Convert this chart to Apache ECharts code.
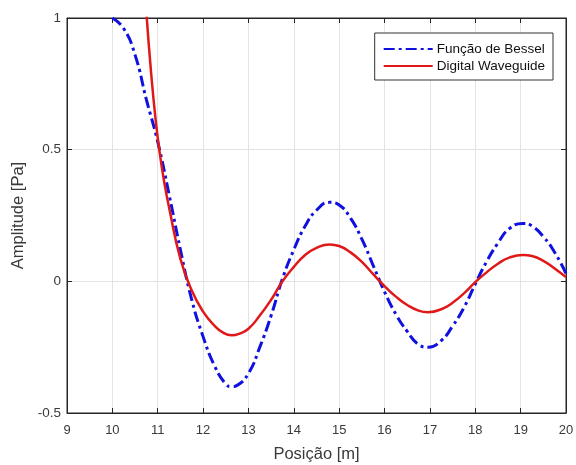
<!DOCTYPE html>
<html>
<head>
<meta charset="utf-8">
<script src="https://cdn.jsdelivr.net/npm/echarts@6/dist/echarts.min.js"></script>
<style>
  html, body { margin: 0; padding: 0; background: #fff; }
  #main { width: 576px; height: 465px; }
</style>
</head>
<body>
<div id="main"></div>
<script>
// valores
let besselX = [10, 10.25, 10.5, 10.75, 11, 11.25, 11.5, 11.75, 12, 12.25, 12.5, 12.63, 12.75, 13, 13.25, 13.5, 13.75,
  14, 14.25, 14.5, 14.79, 15, 15.25, 15.5, 15.75, 16, 16.25, 16.5, 16.75, 16.96, 17.25, 17.5, 17.75,
  18, 18.25, 18.5, 18.75, 19.05, 19.25, 19.5, 19.75, 20];
let besselY = [1.0, 0.96, 0.86, 0.69, 0.53, 0.33, 0.12, -0.07, -0.21, -0.32, -0.39, -0.40, -0.395, -0.35, -0.25, -0.13, 0.01,
  0.12, 0.21, 0.27, 0.30, 0.29, 0.24, 0.16, 0.06, -0.04, -0.125, -0.19, -0.24, -0.25, -0.225, -0.17, -0.10,
  -0.01, 0.075, 0.145, 0.20, 0.22, 0.21, 0.17, 0.11, 0.03];

let waveX = [10.75, 10.85, 10.95, 11.05, 11.15, 11.25, 11.5, 11.75, 12, 12.25, 12.45, 12.63, 12.8, 13, 13.25, 13.5, 13.75,
  14, 14.25, 14.5, 14.79, 15, 15.25, 15.5, 15.75, 16, 16.25, 16.5, 16.75, 16.96, 17.25, 17.5, 17.75,
  18, 18.25, 18.5, 18.75, 19.05, 19.25, 19.5, 19.75, 20];
let waveY = [1.02, 0.80, 0.62, 0.48, 0.37, 0.28, 0.085, -0.035, -0.115, -0.168, -0.196, -0.205, -0.199, -0.18, -0.13, -0.07, 0.0,
  0.055, 0.10, 0.127, 0.14, 0.134, 0.11, 0.074, 0.027, -0.018, -0.058, -0.09, -0.111, -0.117, -0.106, -0.081, -0.046,
  -0.003, 0.034, 0.067, 0.09, 0.10, 0.096, 0.078, 0.049, 0.016];

let xTicks = [9, 10, 11, 12, 13, 14, 15, 16, 17, 18, 19, 20];
let yTicks = [-0.5, 0, 0.5, 1];

let names = ['Função de Bessel', 'Digital Waveguide'];

function pairs(xs, ys) {
  let out = [];
  for (let i = 0; i < xs.length; i++) out.push([xs[i], ys[i]]);
  return out;
}

let axisColor = '#262626';
let labelColor = '#3a3a3a';
let font = 'Liberation Sans, Arial, sans-serif';

function boxAxis(pos, minV, maxV, step) {
  return {
    type: 'value', position: pos,
    min: minV, max: maxV, interval: step,
    axisLine: { show: true, onZero: false, lineStyle: { color: axisColor } },
    axisTick: { show: true, inside: true, length: 5, lineStyle: { color: axisColor } },
    axisLabel: { show: false },
    splitLine: { show: false }
  };
}

let myChart = echarts.init(document.getElementById('main'), null, { renderer: 'canvas' });
let option = {
  backgroundColor: '#fff',
  animation: false,
  grid: {
    left: 67, right: 10, top: 18, bottom: 52,
    containLabel: false,
    outerBoundsMode: 'none',
    show: true, borderColor: axisColor, borderWidth: 1, backgroundColor: '#fff'
  },
  legend: {
    data: names,
    right: 23, top: 33,
    orient: 'vertical',
    itemGap: 3,
    itemWidth: 49,
    itemHeight: 14,
    padding: [9, 8, 7, 8],
    borderColor: '#333',
    borderWidth: 1,
    backgroundColor: '#fff',
    itemStyle: { opacity: 0 },
    textStyle: { fontFamily: font, fontSize: 13.5, color: '#111', padding: [0, 0, 0, -1] }
  },
  xAxis: [{
    type: 'value',
    min: xTicks[0], max: xTicks[xTicks.length - 1], interval: 1,
    name: 'Posição [m]',
    nameLocation: 'middle',
    nameGap: 33,
    nameTextStyle: { fontFamily: font, fontSize: 16.5, color: labelColor },
    axisLine: { show: true, onZero: false, lineStyle: { color: axisColor } },
    axisTick: { show: true, inside: true, length: 5, lineStyle: { color: axisColor } },
    axisLabel: { fontFamily: font, fontSize: 13, color: labelColor, margin: 11 },
    splitLine: { show: true, lineStyle: { color: '#e3e3e3' } }
  }, boxAxis('top', xTicks[0], xTicks[xTicks.length - 1], 1)],
  yAxis: [{
    type: 'value',
    min: yTicks[0], max: yTicks[yTicks.length - 1], interval: 0.5,
    name: 'Amplitude [Pa]',
    nameLocation: 'middle',
    nameGap: 35,
    nameTextStyle: { fontFamily: font, fontSize: 16.5, color: labelColor },
    axisLine: { show: true, onZero: false, lineStyle: { color: axisColor } },
    axisTick: { show: true, inside: true, length: 5, lineStyle: { color: axisColor } },
    axisLabel: { fontFamily: font, fontSize: 13.5, color: labelColor, margin: 6 },
    splitLine: { show: true, lineStyle: { color: '#e3e3e3' } }
  }, boxAxis('right', yTicks[0], yTicks[yTicks.length - 1], 0.5)],
  series: [
    {
      name: names[0],
      type: 'line',
      data: pairs(besselX, besselY),
      smooth: 0.5,
      showSymbol: false,
      symbol: 'none',
      clip: true,
      z: 2,
      itemStyle: { color: '#1010e0' },
      lineStyle: { color: '#1010e0', width: 3, type: [11, 4, 3, 4] }
    },
    {
      name: names[1],
      type: 'line',
      data: pairs(waveX, waveY),
      smooth: 0.5,
      showSymbol: false,
      symbol: 'none',
      clip: true,
      z: 3,
      itemStyle: { color: '#e01818' },
      lineStyle: { color: '#e01818', width: 2.5 }
    }
  ]
};
myChart.clear();
myChart.setOption(option);
</script>
</body>
</html>
